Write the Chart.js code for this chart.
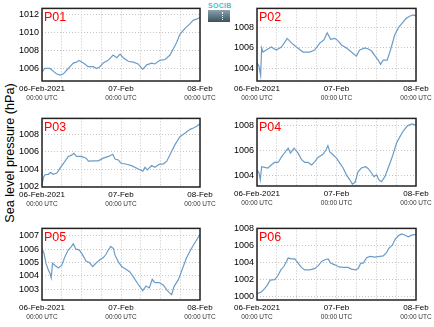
<!DOCTYPE html>
<html>
<head>
<meta charset="utf-8">
<script src="https://cdn.jsdelivr.net/npm/chart.js@4.4.0/dist/chart.umd.min.js"></script>
<style>
  body { margin: 0; background: #fff; width: 434px; height: 327px; overflow: hidden; position: relative; font-family: "Liberation Sans", Arial, sans-serif; }
  canvas { position: absolute; }
  #ytitle { position: absolute; left: 10px; top: 153px; transform: translate(-50%, -50%) rotate(-90deg); font-size: 12.7px; white-space: nowrap; color: #000; }
  #logoText { position: absolute; left: 208px; top: 2px; font-size: 7px; font-weight: bold; color: #45bfd0; letter-spacing: 0.3px; }
  #logoBox { position: absolute; left: 208px; top: 10px; width: 22px; height: 12px; background: linear-gradient(#8aa3b0, #3a505d); }
  #logoBox div { position: absolute; left: 14px; top: 2px; height: 8px; border-left: 1px dotted #fff; }
</style>
</head>
<body>
<div id="ytitle">Sea level pressure (hPa)</div>
<div id="logoText">SOCIB</div>
<div id="logoBox"><div></div></div>
<canvas id="c1"></canvas>
<canvas id="c2"></canvas>
<canvas id="c3"></canvas>
<canvas id="c4"></canvas>
<canvas id="c5"></canvas>
<canvas id="c6"></canvas>
<script>
// time axis: hours since 06-Feb-2021 00:00 UTC
const xGridHours = [0, 6, 12, 18, 24, 30, 36, 42, 48];
const xLabelHours = [0, 24, 48];
const xDateLabels = ['06-Feb-2021', '07-Feb', '08-Feb'];
const xTimeLabel = '00:00 UTC';

// P01
const p01Hours = [0, 0.8, 2.4, 3.4, 4.4, 5.5, 6.5, 7.5, 8.5, 9.5, 10.5, 11.2, 12.6, 14, 15.6, 16.6, 17.6, 18.6, 20.1, 21.6, 22.7, 23.7, 24.7, 26.2, 27.7, 29.2, 30.6, 31.8, 33.3, 34.3, 35.8, 37.4, 38.9, 39.9, 40.9, 41.9, 43.5, 45, 46, 47, 48];
const p01Values = [1005.6, 1006.0, 1006.0, 1005.7, 1005.4, 1005.25, 1005.4, 1005.8, 1006.2, 1006.6, 1006.7, 1006.9, 1006.6, 1006.2, 1006.2, 1006.0, 1006.2, 1006.6, 1006.9, 1007.5, 1007.2, 1007.6, 1007.2, 1006.8, 1006.7, 1006.5, 1005.9, 1006.4, 1006.6, 1006.5, 1006.9, 1007.0, 1007.5, 1008.2, 1008.9, 1009.8, 1010.5, 1011.0, 1011.4, 1011.5, 1011.7];
const p01Ticks = [1006, 1008, 1010, 1012];

// P02
const p02Hours = [0, 0.6, 1.1, 1.4, 1.8, 2.8, 4.3, 5.8, 7.4, 9.1, 10.4, 11.9, 13.9, 15.9, 17.4, 19, 20.2, 21.2, 22.2, 23.5, 24.5, 25.5, 27, 28.5, 30, 31, 32.6, 33.6, 34.6, 35.8, 36.6, 37.3, 38.1, 39.3, 40.3, 41.6, 42.7, 43.7, 45, 46.2, 47.2, 48];
const p02Values = [1004.55, 1004.2, 1003.3, 1006.0, 1005.6, 1005.8, 1006.1, 1005.8, 1006.1, 1006.95, 1006.5, 1006.1, 1005.6, 1005.6, 1005.8, 1006.5, 1006.8, 1007.5, 1006.85, 1006.95, 1006.7, 1006.3, 1006.0, 1005.6, 1005.2, 1005.8, 1006.0, 1005.9, 1005.7, 1005.15, 1004.8, 1004.4, 1004.8, 1004.8, 1005.8, 1007.3, 1008.0, 1008.4, 1008.9, 1009.15, 1009.25, 1009.15];
const p02Ticks = [1004, 1006, 1008];

// P03
const p03Hours = [0, 0.4, 0.9, 1.9, 2.6, 3.4, 4.5, 5.5, 7, 8, 9, 9.7, 10.5, 12, 13.4, 14.1, 15.6, 17.1, 18.6, 20.2, 21.5, 22.2, 23.2, 23.9, 25.7, 27.2, 28.8, 30.6, 31.3, 32, 33.3, 34.3, 35.6, 36.9, 37.9, 39.1, 40.4, 41.9, 43.4, 45, 46, 47, 48];
const p03Values = [1002.2, 1003.0, 1003.35, 1003.4, 1003.6, 1003.4, 1003.55, 1004.1, 1004.9, 1005.45, 1005.6, 1005.8, 1005.45, 1005.45, 1005.25, 1004.9, 1004.95, 1004.95, 1005.25, 1005.45, 1005.7, 1005.15, 1005.05, 1004.7, 1004.55, 1004.4, 1004.1, 1003.75, 1004.2, 1003.9, 1004.4, 1004.2, 1004.55, 1004.6, 1004.9, 1005.8, 1006.8, 1007.7, 1008.1, 1008.55, 1008.7, 1008.9, 1009.2];
const p03Ticks = [1002, 1004, 1006, 1008];

// P04
const p04Hours = [0, 0.6, 1, 1.4, 2.3, 3.3, 4.3, 5.3, 6.4, 7.4, 8.4, 9.4, 10.1, 11.2, 12.4, 13.4, 14.4, 15.4, 16.5, 17.4, 18.4, 19.9, 20.8, 21.4, 22, 23, 24, 25, 26, 27, 28, 28.8, 29.6, 30.5, 31.5, 32.8, 33.6, 34.6, 35.3, 36.1, 36.8, 37.6, 38.6, 39.6, 40.9, 42.1, 43.2, 44.2, 45.4, 46.7, 48];
const p04Values = [1004.45, 1004.2, 1003.65, 1004.7, 1004.65, 1004.6, 1004.85, 1005.05, 1005.05, 1005.5, 1005.85, 1006.2, 1005.8, 1006.2, 1005.8, 1005.3, 1005.05, 1005.05, 1004.85, 1005.1, 1005.45, 1005.7, 1006.05, 1006.4, 1005.9, 1005.65, 1005.4, 1005.0, 1004.6, 1004.05, 1003.65, 1003.3, 1003.45, 1004.3, 1004.6, 1004.7, 1004.55, 1004.2, 1003.9, 1004.05, 1003.65, 1003.5, 1003.9, 1004.6, 1005.55, 1006.6, 1007.15, 1007.6, 1008.0, 1008.15, 1008.05];
const p04Ticks = [1004, 1006, 1008];

// P05
const p05Hours = [0, 0.6, 1.2, 1.9, 2.4, 2.8, 3.2, 3.9, 5, 6, 7, 8, 8.8, 9.5, 10.3, 11.3, 12.4, 13.4, 14.4, 15.4, 16.6, 17.6, 18.6, 19.4, 20.2, 20.9, 21.7, 22.2, 23.2, 24.2, 25.5, 26.7, 27.7, 29, 30.6, 31.6, 32.6, 33.5, 34.3, 35.6, 36.9, 37.9, 38.7, 39.4, 40.1, 41.4, 42.7, 43.9, 45.4, 47, 48];
const p05Values = [1006.05, 1005.7, 1004.95, 1004.45, 1004.2, 1003.85, 1004.95, 1004.8, 1004.6, 1004.8, 1005.45, 1005.95, 1006.15, 1006.4, 1006.0, 1005.95, 1005.55, 1005.1, 1005.0, 1004.7, 1005.0, 1005.2, 1005.35, 1005.6, 1005.95, 1006.2, 1006.05, 1005.55, 1005.05, 1004.7, 1004.5, 1004.3, 1003.95, 1003.45, 1002.9, 1003.25, 1003.1, 1003.75, 1003.5, 1003.5, 1003.3, 1002.95, 1002.75, 1002.6, 1003.2, 1003.7, 1004.55, 1005.35, 1006.05, 1006.7, 1007.1];
const p05Ticks = [1003, 1004, 1005, 1006, 1007];

// P06
const p06Hours = [0, 1.3, 2.3, 3.1, 4, 5.3, 6.2, 7.2, 8.1, 8.9, 9.4, 10.4, 11.4, 12.4, 13.4, 14.4, 15.9, 17.4, 18.5, 19.5, 20.5, 21.5, 22.2, 23.5, 24.8, 26, 27.5, 28.5, 29.8, 30.6, 31.3, 32.1, 33.1, 34.1, 35.6, 37.1, 38.1, 39.1, 39.8, 40.9, 41.6, 42.7, 43.7, 44.7, 45.7, 46.7, 48];
const p06Values = [1000.3, 1000.5, 1000.9, 1001.3, 1001.9, 1001.95, 1002.35, 1003.1, 1003.5, 1004.1, 1004.5, 1004.4, 1004.4, 1003.9, 1003.4, 1003.1, 1003.1, 1003.25, 1003.6, 1004.1, 1004.3, 1004.4, 1003.9, 1003.7, 1003.45, 1003.4, 1003.4, 1003.2, 1003.1, 1003.3, 1003.9, 1003.9, 1004.55, 1004.7, 1004.6, 1004.7, 1004.75, 1005.15, 1005.65, 1006.05, 1006.65, 1007.15, 1007.35, 1007.2, 1007.0, 1007.2, 1007.3];
const p06Ticks = [1000, 1002, 1004, 1006, 1008];

const panels = [
  { id: 'c1', name: 'P01', hours: p01Hours, values: p01Values, ticks: p01Ticks, min: 1004.6, max: 1012.7, left: 42, top: 8, right: 200, bottom: 81 },
  { id: 'c2', name: 'P02', hours: p02Hours, values: p02Values, ticks: p02Ticks, min: 1002.75, max: 1009.9, left: 257, top: 8, right: 416, bottom: 81 },
  { id: 'c3', name: 'P03', hours: p03Hours, values: p03Values, ticks: p03Ticks, min: 1001.95, max: 1009.8, left: 42, top: 118, right: 200, bottom: 187 },
  { id: 'c4', name: 'P04', hours: p04Hours, values: p04Values, ticks: p04Ticks, min: 1003.15, max: 1008.6, left: 257, top: 118, right: 416, bottom: 186 },
  { id: 'c5', name: 'P05', hours: p05Hours, values: p05Values, ticks: p05Ticks, min: 1002.2, max: 1007.55, left: 42, top: 228, right: 200, bottom: 300 },
  { id: 'c6', name: 'P06', hours: p06Hours, values: p06Values, ticks: p06Ticks, min: 999.55, max: 1008.0, left: 257, top: 228, right: 416, bottom: 300 }
];

const Y_AXIS_W = 42, PAD_TOP = 8, PAD_RIGHT = 18, DATE_H = 13, TIME_H = 12, PAD_BOTTOM = 2;

// frame round the plot area plus panel name
const framePlugin = {
  id: 'frame',
  afterDatasetsDraw(chart, args, opts) {
    const a = chart.chartArea, ctx = chart.ctx;
    ctx.save();
    ctx.strokeStyle = '#222';
    ctx.lineWidth = 1.5;
    ctx.strokeRect(a.left, a.top, a.right - a.left, a.bottom - a.top);
    ctx.fillStyle = '#ff0000';
    ctx.font = '12.5px "Liberation Sans", Arial, sans-serif';
    ctx.textBaseline = 'alphabetic';
    ctx.fillText(opts.name, a.left + 2, a.top + 12.5);
    ctx.restore();
  }
};

const gridStyle = { color: '#c4c4c4', lineWidth: 1, drawTicks: false };

panels.forEach(p => {
  const cv = document.getElementById(p.id);
  const w = (p.right - p.left) + Y_AXIS_W + PAD_RIGHT;
  const h = (p.bottom - p.top) + PAD_TOP + DATE_H + TIME_H + PAD_BOTTOM;
  cv.style.left = (p.left - Y_AXIS_W) + 'px';
  cv.style.top = (p.top - PAD_TOP) + 'px';
  cv.style.width = w + 'px';
  cv.style.height = h + 'px';
  cv.width = w; cv.height = h;

  new Chart(cv, {
    type: 'line',
    data: {
      datasets: [{
        data: p.hours.map((hr, i) => ({ x: hr, y: p.values[i] })),
        borderColor: '#6b9cc8',
        borderWidth: 1.2,
        pointRadius: 0,
        tension: 0,
        fill: false
      }]
    },
    options: {
      responsive: false,
      animation: false,
      events: [],
      layout: { padding: { top: PAD_TOP, right: PAD_RIGHT, bottom: PAD_BOTTOM, left: 0 } },
      plugins: { legend: { display: false }, tooltip: { enabled: false }, frame: { name: p.name } },
      scales: {
        x: {
          type: 'linear', position: 'bottom', weight: 0,
          min: 0, max: 48,
          afterBuildTicks: s => { s.ticks = xGridHours.map(v => ({ value: v })); },
          afterFit: s => { s.height = DATE_H; },
          grid: { ...gridStyle, borderDash: [1, 2] },
          border: { display: false, dash: [1, 2] },
          ticks: {
            autoSkip: false, maxRotation: 0, padding: 3,
            color: '#000',
            font: { size: 8, family: '"Liberation Sans", Arial, sans-serif' },
            callback: v => { const k = xLabelHours.indexOf(v); return k < 0 ? '' : xDateLabels[k]; }
          }
        },
        xUtc: {
          type: 'linear', position: 'bottom', weight: 1,
          min: 0, max: 48,
          afterBuildTicks: s => { s.ticks = xLabelHours.map(v => ({ value: v })); },
          afterFit: s => { s.height = TIME_H; },
          grid: { display: false, drawTicks: false },
          border: { display: false },
          ticks: {
            autoSkip: false, maxRotation: 0, padding: 0,
            color: '#333',
            font: { size: 6.5, family: '"Liberation Sans", Arial, sans-serif' },
            callback: () => xTimeLabel
          }
        },
        y: {
          type: 'linear', position: 'left',
          min: p.min, max: p.max,
          afterBuildTicks: s => { s.ticks = p.ticks.map(v => ({ value: v })); },
          afterFit: s => { s.width = Y_AXIS_W; },
          grid: { ...gridStyle, borderDash: [1, 2] },
          border: { display: false, dash: [1, 2] },
          ticks: {
            padding: 3, color: '#000',
            font: { size: 9, family: '"Liberation Sans", Arial, sans-serif' },
            callback: v => String(v)
          }
        }
      }
    },
    plugins: [framePlugin]
  });
});
</script>
</body>
</html>
